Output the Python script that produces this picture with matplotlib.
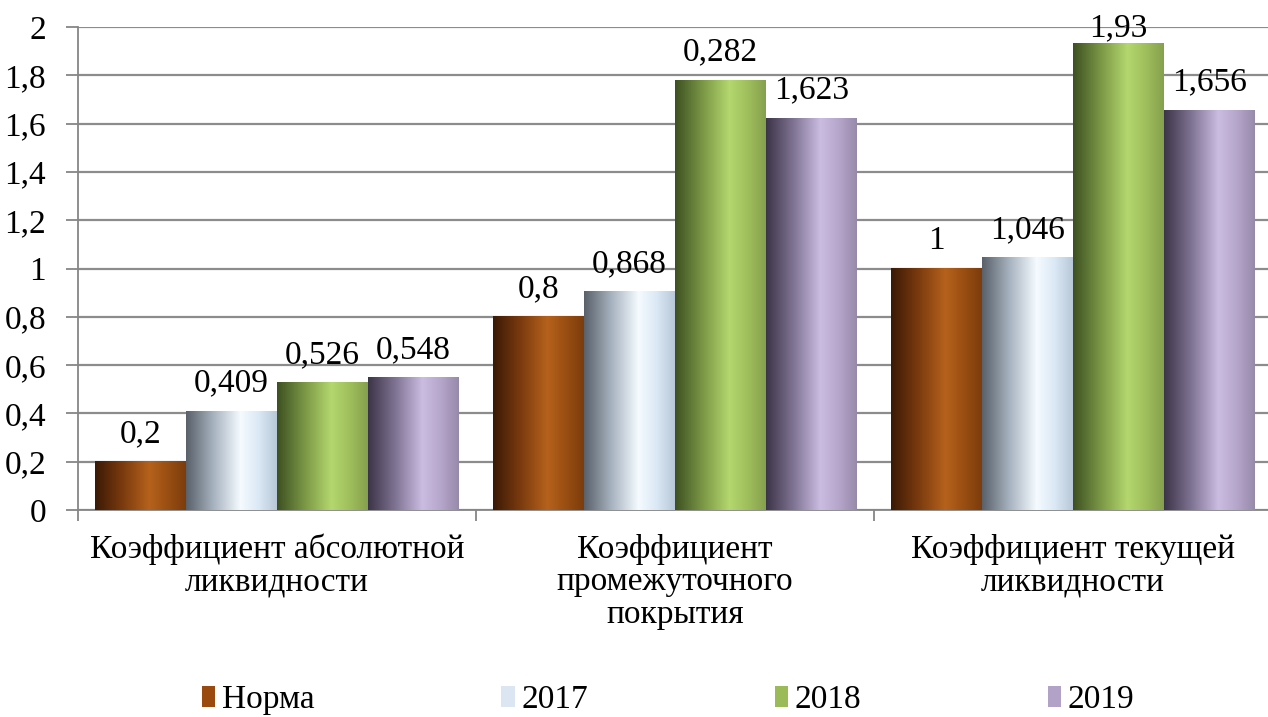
import numpy as np
import matplotlib
matplotlib.use("Agg")
import matplotlib.pyplot as plt
from matplotlib.colors import LinearSegmentedColormap
from matplotlib.patches import Patch

categories = ["Коэффициент абсолютной\nликвидности",
              "Коэффициент\nпромежуточного\nпокрытия",
              "Коэффициент текущей\nликвидности"]
series_names = ["Норма", "2017", "2018", "2019"]
norma = [0.2, 0.8, 1.0]
y2017 = [0.409, 0.905, 1.046]
y2018 = [0.526, 1.78, 1.93]
y2019 = [0.548, 1.623, 1.656]
labels_norma = ["0,2", "0,8", "1"]
labels_2017 = ["0,409", "0,868", "1,046"]
labels_2018 = ["0,526", "0,282", "1,93"]
labels_2019 = ["0,548", "1,623", "1,656"]
yticks = [0, 0.2, 0.4, 0.6, 0.8, 1, 1.2, 1.4, 1.6, 1.8, 2]
ytick_labels = ["0", "0,2", "0,4", "0,6", "0,8", "1", "1,2", "1,4", "1,6", "1,8", "2"]

values = [norma, y2017, y2018, y2019]
labels = [labels_norma, labels_2017, labels_2018, labels_2019]
legend_colors = ["#9a4a0e", "#dce6f2", "#9bbb59", "#b3a2c7"]
gradients = [
    ["#3a1a06", "#7a3a0e", "#b6621c", "#9a4e12", "#7c3c0c"],
    ["#596069", "#a6b2bf", "#f5fbff", "#dbe8f5", "#b8c8d8"],
    ["#3d5022", "#7a9645", "#b4d76e", "#9fbf5c", "#86a04d"],
    ["#3c3447", "#7f7393", "#cbbce2", "#b6a6cc", "#978aa9"],
]
stops = [0.0, 0.3, 0.6, 0.8, 1.0]

FAM = 'Liberation Serif'
plt.rcParams['font.family'] = 'serif'
plt.rcParams['font.serif'] = [FAM, 'DejaVu Serif']
FS = 24

fig = plt.figure(figsize=(12.68, 7.17), dpi=100)
ax = fig.add_axes([78/1268, 1-510/717, (1272-78)/1268, (510-27)/717])

n = len(series_names)
width = 0.2286
x = np.arange(len(categories))
grad = np.linspace(0, 1, 256).reshape(1, -1)

for i in range(n):
    offs = (i - (n - 1) / 2) * width
    bars = ax.bar(x + offs, values[i], width=width, color="none",
                  edgecolor="none", zorder=3)
    cmap = LinearSegmentedColormap.from_list(
        f"g{i}", list(zip(stops, gradients[i])))
    for rect in bars:
        x0, y0 = rect.get_xy()
        w, h = rect.get_width(), rect.get_height()
        ax.imshow(grad, extent=[x0, x0 + w, y0, y0 + h], aspect='auto',
                  cmap=cmap, origin='lower', zorder=3, interpolation='bilinear')
    for xi, v, lab in zip(x + offs, values[i], labels[i]):
        ly = min(v + 0.115, 1.995)
        ax.text(xi, ly, lab, ha='center', va='center', fontsize=FS, zorder=5,
                family=FAM)

ax.set_xlim(-0.5, 2.5)
ax.set_ylim(0, 2)
ax.set_yticks(yticks)
ax.set_yticklabels(ytick_labels, fontsize=FS, family=FAM)
ax.yaxis.grid(True, color="#8c8c8c", linewidth=1.6, zorder=0)
ax.set_axisbelow(True)

ax.set_xticks(x)
ax.set_xticklabels(categories, fontsize=FS, linespacing=1.1, family=FAM)
ax.set_xticks([-0.5, 0.5, 1.5, 2.5], minor=True)
ax.tick_params(axis='x', which='major', length=0, pad=17)
ax.tick_params(axis='x', which='minor', length=8, color="#868686", width=1.3)
ax.tick_params(axis='y', length=9, color="#868686", width=1.3, pad=14)

for s in ['top', 'right']:
    ax.spines[s].set_visible(False)
for s in ['left', 'bottom']:
    ax.spines[s].set_color("#868686")
    ax.spines[s].set_linewidth(1.3)

handles = [Patch(facecolor=c, edgecolor='none') for c in legend_colors]
fig.legend(handles, series_names, loc='center', bbox_to_anchor=(0.527, 1-700/717),
           ncol=4, frameon=False, prop={'family': FAM, 'size': FS},
           handlelength=0.4, handleheight=0.55,
           handletextpad=0.2, columnspacing=5.6)

fig.savefig("out.png", dpi=100)
